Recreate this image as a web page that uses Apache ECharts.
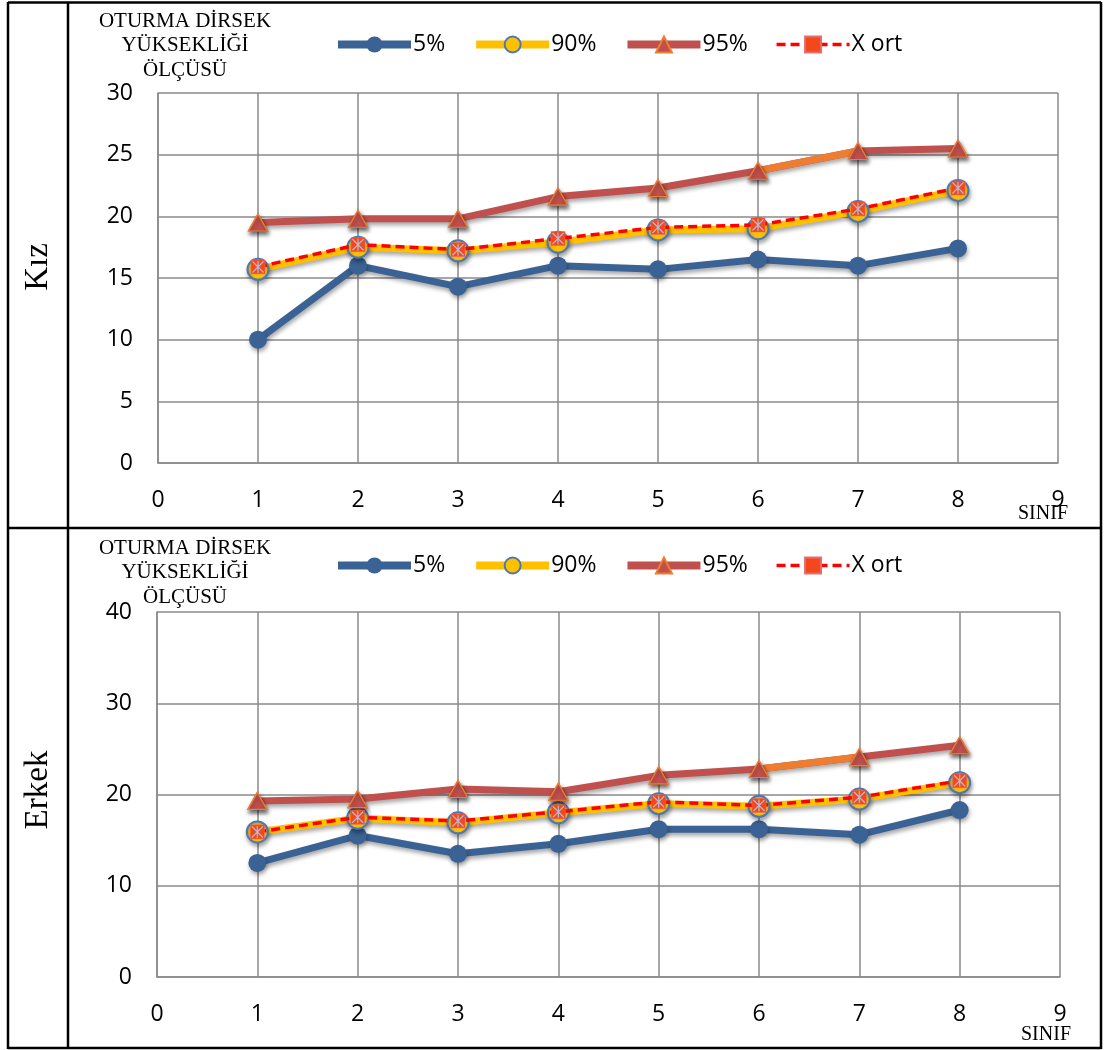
<!DOCTYPE html>
<html>
<head>
<meta charset="utf-8">
<script src="https://cdn.jsdelivr.net/npm/echarts@6/dist/echarts.min.js"></script>
<style>
html,body{margin:0;padding:0;background:#fff;}
#c{width:1105px;height:1050px;}
</style>
</head>
<body>
<div id="c"></div>
<script>
// ---- data ----
var xValues = [1, 2, 3, 4, 5, 6, 7, 8];
var seriesNames = ['5%', '90%', '95%', 'X ort'];
var titleLines = ['OTURMA DİRSEK', 'YÜKSEKLİĞİ', 'ÖLÇÜSÜ'];
var rowLabels = ['Kız', 'Erkek'];
var xAxisName = 'SINIF';

var kiz5  = [10.0, 16.0, 14.3, 16.0, 15.7, 16.5, 16.0, 17.4];
var kiz90 = [15.7, 17.5, 17.2, 17.9, 18.9, 19.0, 20.4, 22.1];
var kiz95 = [19.5, 19.8, 19.8, 21.6, 22.3, 23.7, 25.3, 25.5];
var kizX  = [15.9, 17.7, 17.3, 18.2, 19.1, 19.3, 20.6, 22.3];

var erkek5  = [12.5, 15.5, 13.5, 14.6, 16.2, 16.2, 15.6, 18.3];
var erkek90 = [15.9, 17.4, 16.9, 18.0, 19.0, 18.7, 19.5, 21.3];
var erkek95 = [19.3, 19.5, 20.6, 20.3, 22.1, 22.8, 24.1, 25.4];
var erkekX  = [15.9, 17.5, 17.1, 18.1, 19.2, 18.8, 19.7, 21.5];

var kizYTicks = {min: 0, max: 30, interval: 5};
var erkekYTicks = {min: 0, max: 40, interval: 10};
var xTicks = {min: 0, max: 9, interval: 1};

// ---- helpers ----
function pts(arr) { return arr.map(function (v, i) { return [xValues[i], v]; }); }
function segment(arr, from, to) {
  return arr.map(function (v, i) { return (xValues[i] >= from && xValues[i] <= to) ? [xValues[i], v] : [xValues[i], null]; });
}

var BLUE = '#3A6294', YELLOW = '#FFC000', RED = '#C0504D', ORANGE = '#ED7D31';
var GRIDC = '#8a8a8a';
var shadow = {shadowColor: 'rgba(0,0,0,0.35)', shadowBlur: 4, shadowOffsetX: 1, shadowOffsetY: 3};
var asterisk = 'path://M0,1.5 L1.5,0 L10,8.5 L18.5,0 L20,1.5 L11.5,10 L20,18.5 L18.5,20 L10,11.5 L1.5,20 L0,18.5 L8.5,10 Z M9,0 L11,0 L11,20 L9,20 Z';

function buildSeries(idx, d5, d90, d95, dX) {
  var base = {type: 'line', xAxisIndex: idx, yAxisIndex: idx, animation: false};
  return [
    Object.assign({}, base, {
      name: '5%', data: pts(d5), symbol: 'circle', symbolSize: 18,
      lineStyle: Object.assign({color: BLUE, width: 7}, shadow),
      itemStyle: Object.assign({color: BLUE}, shadow), z: 3
    }),
    Object.assign({}, base, {
      name: '90%', data: pts(d90), symbol: 'circle', symbolSize: 21,
      lineStyle: Object.assign({color: YELLOW, width: 7}, shadow),
      itemStyle: Object.assign({color: YELLOW, borderColor: '#4A78B4', borderWidth: 2}, shadow), z: 3
    }),
    Object.assign({}, base, {
      name: '95%', data: pts(d95), symbol: 'triangle', symbolSize: [19, 17],
      lineStyle: Object.assign({color: RED, width: 7}, shadow),
      itemStyle: Object.assign({color: RED, borderColor: ORANGE, borderWidth: 1.2}, shadow), z: 3
    }),
    Object.assign({}, base, {
      name: '95%seg', data: segment(d95, 6, 7), symbol: 'none', connectNulls: false,
      lineStyle: {color: ORANGE, width: 7}, z: 3
    }),
    Object.assign({}, base, {
      name: '95%mk', data: pts(d95), symbol: 'triangle', symbolSize: [19, 17],
      lineStyle: {opacity: 0, width: 0},
      itemStyle: Object.assign({color: RED, borderColor: ORANGE, borderWidth: 1.2}, shadow), z: 3
    }),
    Object.assign({}, base, {
      name: 'X ort', data: pts(dX), symbol: 'rect', symbolSize: 14,
      lineStyle: {color: '#FF0000', width: 3.5, type: [9, 5]},
      itemStyle: {color: '#F4471C', borderColor: '#E07070', borderWidth: 0.5}, z: 4
    }),
    Object.assign({}, base, {
      name: 'X ortmk', data: pts(dX), symbol: asterisk, symbolSize: 12,
      lineStyle: {opacity: 0, width: 0},
      itemStyle: {color: '#B4BCD6'}, z: 5
    })
  ];
}

var axisLabelStyle = {color: '#000', fontFamily: 'Open Sans', fontSize: 23};
function xAxis(idx) {
  return {
    type: 'value', gridIndex: idx, min: xTicks.min, max: xTicks.max, interval: xTicks.interval,
    axisLine: {show: true, lineStyle: {color: GRIDC, width: 1.5}},
    axisTick: {show: false},
    splitLine: {show: true, lineStyle: {color: GRIDC, width: 1.5}},
    axisLabel: Object.assign({margin: 26}, axisLabelStyle)
  };
}
function yAxis(idx, t) {
  return {
    type: 'value', gridIndex: idx, min: t.min, max: t.max, interval: t.interval,
    axisLine: {show: true, lineStyle: {color: GRIDC, width: 1.5}},
    axisTick: {show: false},
    splitLine: {show: true, lineStyle: {color: GRIDC, width: 1.5}},
    axisLabel: Object.assign({margin: 25}, axisLabelStyle)
  };
}
var legendWidths = {'5%': 8, '90%': 8, '95%': 8, 'X ort': 3.5};
function legend(top) {
  return {
    data: seriesNames.map(function (n) { return {name: n, lineStyle: {width: legendWidths[n]}}; }),
    left: 329, top: top, itemWidth: 73, itemHeight: 20, itemGap: 27,
    textStyle: {fontFamily: 'Open Sans', fontSize: 23, color: '#000', padding: [0, 0, 0, -3]},
    selectedMode: false
  };
}

function titleGraphics(y0) {
  return titleLines.map(function (t, i) {
    return {type: 'text', x: 185, y: y0 + i * 24.5, style: {text: t, font: '21px "Liberation Serif"', fill: '#000', textAlign: 'center', textVerticalAlign: 'middle'}};
  });
}
function line(x1, y1, x2, y2) {
  return {type: 'line', shape: {x1: x1, y1: y1, x2: x2, y2: y2}, style: {stroke: '#000', lineWidth: 2.5}};
}

var graphics = [].concat(
  titleGraphics(21), titleGraphics(548),
  [
    line(8, 2.5, 1101, 2.5), line(8, 528, 1101, 528), line(8, 1048, 1101, 1048),
    line(8, 2, 8, 1049), line(68, 2, 68, 1049), line(1101, 2, 1101, 1049),
    {type: 'text', x: 38, y: 267, rotation: Math.PI / 2, style: {text: rowLabels[0], font: '33px "Liberation Serif"', fill: '#000', textAlign: 'center', textVerticalAlign: 'middle'}},
    {type: 'text', x: 38, y: 790, rotation: Math.PI / 2, style: {text: rowLabels[1], font: '33px "Liberation Serif"', fill: '#000', textAlign: 'center', textVerticalAlign: 'middle'}},
    {type: 'text', x: 1043, y: 514, style: {text: xAxisName, font: '20px "Liberation Serif"', fill: '#000', textAlign: 'center', textVerticalAlign: 'middle'}},
    {type: 'text', x: 1046, y: 1035, style: {text: xAxisName, font: '20px "Liberation Serif"', fill: '#000', textAlign: 'center', textVerticalAlign: 'middle'}}
  ]
);

var chart = echarts.init(document.getElementById('c'), null, {renderer: 'canvas'});
chart.setOption({
  backgroundColor: '#fff',
  animation: false,
  grid: [
    {left: 158, top: 93, width: 900, height: 370},
    {left: 157, top: 612, width: 903, height: 365}
  ],
  xAxis: [xAxis(0), xAxis(1)],
  yAxis: [yAxis(0, kizYTicks), yAxis(1, erkekYTicks)],
  legend: [legend(28), legend(549)],
  series: buildSeries(0, kiz5, kiz90, kiz95, kizX).concat(buildSeries(1, erkek5, erkek90, erkek95, erkekX)),
  graphic: graphics
});
</script>
</body>
</html>
